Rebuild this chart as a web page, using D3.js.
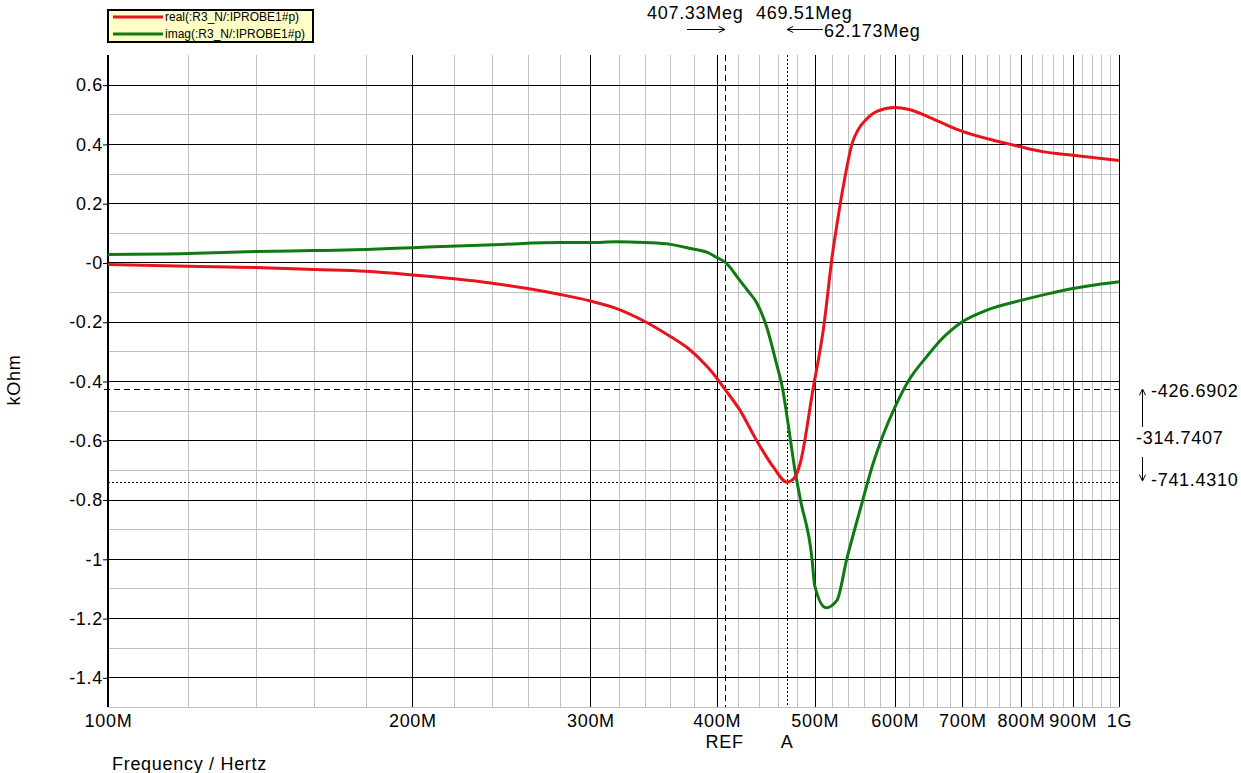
<!DOCTYPE html>
<html>
  <head>
    <meta charset="utf-8">
    <title>real / imag</title>
    <script src="https://d3js.org/d3.v7.min.js"></script>
    <style>
      body { margin: 0; background: #fff; }
      text { font-family: "Liberation Sans", Arial, sans-serif; letter-spacing: 0.7px; }
    </style>
  </head>
  <body>
    <script>
    // frequency in MHz, values in kOhm
    var realFreq = [100, 120, 140, 160, 180, 200, 220, 240, 260, 280, 300, 320, 340, 360, 374, 392, 400, 407.33,
                    422, 438, 455, 469.51, 478, 484, 498, 510, 521, 527, 533, 545, 552, 560, 576, 600, 620, 650,
                    700, 760, 800, 840, 900, 1000];
    var realVal = [-0.007, -0.013, -0.017, -0.024, -0.030, -0.042, -0.055, -0.070, -0.088, -0.108, -0.130, -0.158,
                   -0.200, -0.250, -0.287, -0.354, -0.390, -0.4267, -0.500, -0.600, -0.690, -0.7414, -0.725, -0.675,
                   -0.430, -0.226, 0.034, 0.145, 0.246, 0.405, 0.448, 0.476, 0.510, 0.523, 0.516, 0.489, 0.442,
                   0.408, 0.390, 0.374, 0.362, 0.344];

    var imagFreq = [100, 120, 140, 160, 180, 200, 245, 280, 300, 318, 340, 360, 377, 392, 400, 408, 422, 430, 438,
                    448, 458, 465, 469.51, 478, 484, 497, 500, 513, 526, 538, 555, 571, 584, 600, 619, 646, 665,
                    700, 740, 800, 850, 900, 950, 1000];
    var imagVal = [0.027, 0.030, 0.037, 0.040, 0.044, 0.050, 0.061, 0.067, 0.067, 0.070, 0.067, 0.061, 0.047, 0.033,
                   0.017, 0.000, -0.062, -0.098, -0.135, -0.215, -0.337, -0.430, -0.520, -0.700, -0.800, -1.000,
                   -1.090, -1.165, -1.140, -1.000, -0.830, -0.680, -0.585, -0.490, -0.400, -0.316, -0.265, -0.200,
                   -0.161, -0.128, -0.106, -0.088, -0.075, -0.065];

    var xMajor = [100, 200, 300, 400, 500, 600, 700, 800, 900, 1000];
    var xLabels = ["100M", "200M", "300M", "400M", "500M", "600M", "700M", "800M", "900M", "1G"];
    var yMajor = [0.6, 0.4, 0.2, 0, -0.2, -0.4, -0.6, -0.8, -1.0, -1.2, -1.4];
    var yLabels = ["0.6", "0.4", "0.2", "-0", "-0.2", "-0.4", "-0.6", "-0.8", "-1", "-1.2", "-1.4"];

    var seriesNames = ["real(:R3_N/:IPROBE1#p)", "imag(:R3_N/:IPROBE1#p)"];
    var seriesColors = ["#e8131b", "#0f7a12"];

    var refFreq = 407.33, refVal = -0.4266902;
    var aFreq = 469.51, aVal = -0.7414310;

    var W = 1241, H = 773;
    var pL = 108, pR = 1119, pT = 55, pB = 707;
    var fs = "18px";

    var x = d3.scaleLog().domain([100, 1000]).range([pL, pR]);
    var y = d3.scaleLinear().domain([-1.5, 0.7]).range([pB, pT]);

    var xMinor = d3.range(100, 1000, 20).filter(function(d){ return d % 100 !== 0 });
    var yMinor = d3.range(-15, 7, 2).map(function(d){ return d / 10 });

    var svg = d3.select("body").append("svg")
      .attr("width", W).attr("height", H);

    function px(v){ return Math.round(v) + 0.5 }

    // minor grid
    var g = svg.append("g");
    g.selectAll(".vmin").data(xMinor).enter().append("line")
      .attr("x1", function(d){ return px(x(d)) })
      .attr("x2", function(d){ return px(x(d)) })
      .attr("y1", pT).attr("y2", pB)
      .attr("stroke", "#c0c0c0");
    g.selectAll(".hmin").data(yMinor).enter().append("line")
      .attr("y1", function(d){ return px(y(d)) })
      .attr("y2", function(d){ return px(y(d)) })
      .attr("x1", pL).attr("x2", pR)
      .attr("stroke", "#c0c0c0");

    // major grid
    g.selectAll(".vmaj").data(xMajor).enter().append("line")
      .attr("x1", function(d){ return px(x(d)) })
      .attr("x2", function(d){ return px(x(d)) })
      .attr("y1", pT).attr("y2", pB)
      .attr("stroke", "#000");
    g.selectAll(".hmaj").data(yMajor).enter().append("line")
      .attr("y1", function(d){ return px(y(d)) })
      .attr("y2", function(d){ return px(y(d)) })
      .attr("x1", pL).attr("x2", pR)
      .attr("stroke", "#000");

    // y axis
    var yAxis = d3.axisLeft(y).tickValues(yMajor)
      .tickFormat(function(d, i){ return yLabels[i] })
      .tickSize(5).tickPadding(0);
    var ya = svg.append("g").attr("transform", "translate(" + pL + ",0.5)").call(yAxis);
    ya.select(".domain").remove();
    ya.selectAll("text").attr("font-size", fs).attr("fill", "#000")
      .style("font-family", "'Liberation Sans', Arial, sans-serif");
    ya.selectAll("line").attr("stroke", "#000");
    svg.append("line").attr("x1", pL).attr("x2", pL).attr("y1", pT).attr("y2", pB)
      .attr("stroke", "#000").attr("stroke-width", 2);

    // x axis labels
    var xAxis = d3.axisBottom(x).tickValues(xMajor)
      .tickFormat(function(d, i){ return xLabels[i] })
      .tickSize(0).tickPadding(7);
    var xa = svg.append("g").attr("transform", "translate(0," + pB + ")").call(xAxis);
    xa.select(".domain").remove();
    xa.selectAll("text").attr("font-size", fs).attr("fill", "#000")
      .style("font-family", "'Liberation Sans', Arial, sans-serif");

    // cursors
    svg.append("line")
      .attr("x1", px(x(refFreq))).attr("x2", px(x(refFreq)))
      .attr("y1", pT).attr("y2", pB)
      .attr("stroke", "#000").attr("stroke-dasharray", "6,4");
    svg.append("line")
      .attr("x1", px(x(aFreq))).attr("x2", px(x(aFreq)))
      .attr("y1", pT).attr("y2", pB)
      .attr("stroke", "#000").attr("stroke-dasharray", "2,2");
    svg.append("line")
      .attr("y1", px(y(refVal))).attr("y2", px(y(refVal)))
      .attr("x1", pL - 4).attr("x2", pR)
      .attr("stroke", "#000").attr("stroke-dasharray", "6,4");
    svg.append("line")
      .attr("y1", px(y(aVal))).attr("y2", px(y(aVal)))
      .attr("x1", pL).attr("x2", pR)
      .attr("stroke", "#000").attr("stroke-dasharray", "2,2");

    // curves
    var line = d3.line()
      .x(function(d){ return x(d[0]) })
      .y(function(d){ return y(d[1]) })
      .curve(d3.curveMonotoneX);

    var realData = d3.zip(realFreq, realVal);
    var imagData = d3.zip(imagFreq, imagVal);

    svg.append("path").datum(imagData)
      .attr("d", line).attr("fill", "none")
      .attr("stroke", seriesColors[1]).attr("stroke-width", 3);
    svg.append("path").datum(realData)
      .attr("d", line).attr("fill", "none")
      .attr("stroke", seriesColors[0]).attr("stroke-width", 3);

    // legend
    svg.append("rect").attr("x", 108).attr("y", 10).attr("width", 205).attr("height", 32)
      .attr("fill", "#ffffc6").attr("stroke", "#000").attr("stroke-width", 2);
    seriesNames.forEach(function(name, i){
      var ly = 17 + i * 17;
      svg.append("line").attr("x1", 113).attr("x2", 163).attr("y1", ly).attr("y2", ly)
        .attr("stroke", seriesColors[i]).attr("stroke-width", 3);
      svg.append("text").attr("x", 165).attr("y", ly + 4)
        .attr("font-size", "12px").style("letter-spacing", "0px").text(name);
    });

    // top cursor readouts
    function arrow(x1, y1, x2, y2){
      var ang = Math.atan2(y2 - y1, x2 - x1), s = 7, a = 0.45;
      var p = "M" + x1 + "," + y1 + "L" + x2 + "," + y2 +
        "M" + (x2 - s * Math.cos(ang - a)) + "," + (y2 - s * Math.sin(ang - a)) +
        "L" + x2 + "," + y2 +
        "L" + (x2 - s * Math.cos(ang + a)) + "," + (y2 - s * Math.sin(ang + a));
      svg.append("path").attr("d", p).attr("fill", "none").attr("stroke", "#000").attr("stroke-width", 1);
    }
    svg.append("text").attr("x", 647).attr("y", 19).attr("font-size", fs).text("407.33Meg");
    svg.append("text").attr("x", 756).attr("y", 19).attr("font-size", fs).text("469.51Meg");
    svg.append("text").attr("x", 824).attr("y", 37).attr("font-size", fs).text("62.173Meg");
    arrow(687, 29.5, 725, 29.5);
    arrow(823, 29.5, 787, 29.5);

    // right cursor readouts
    svg.append("text").attr("x", 1151).attr("y", 397).attr("font-size", fs).text("-426.6902");
    svg.append("text").attr("x", 1136).attr("y", 444).attr("font-size", fs).text("-314.7407");
    svg.append("text").attr("x", 1151).attr("y", 486).attr("font-size", fs).text("-741.4310");
    arrow(1142.5, 427, 1142.5, 389);
    arrow(1142.5, 457, 1142.5, 481);

    // cursor names
    svg.append("text").attr("x", x(refFreq)).attr("y", 748).attr("text-anchor", "middle")
      .attr("font-size", fs).text("REF");
    svg.append("text").attr("x", x(aFreq)).attr("y", 748).attr("text-anchor", "middle")
      .attr("font-size", fs).text("A");

    // axis titles
    svg.append("text").attr("x", 112).attr("y", 770).attr("font-size", fs).text("Frequency / Hertz");
    svg.append("text").attr("transform", "translate(20,380) rotate(-90)")
      .attr("text-anchor", "middle").attr("font-size", fs).text("kOhm");
    </script>
  </body>
</html>
